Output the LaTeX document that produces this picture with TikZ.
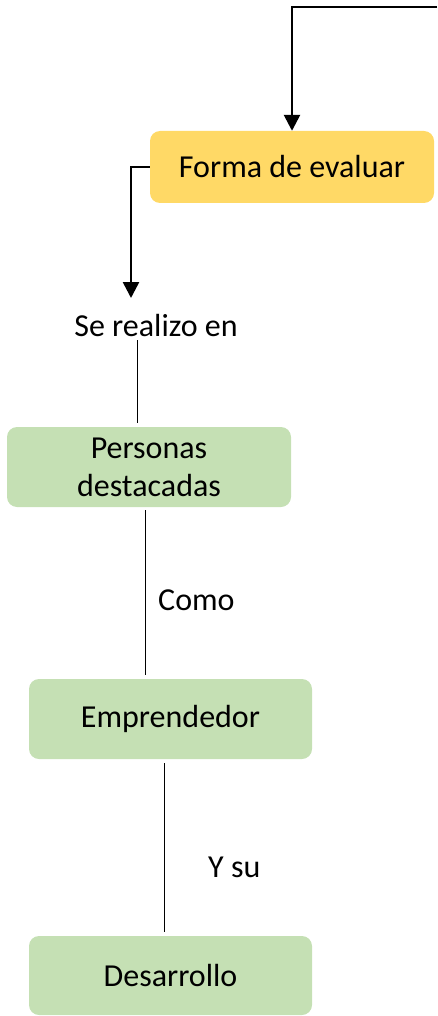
\documentclass[tikz,border=0pt]{standalone}
\usepackage{fontspec}
\setmainfont{Carlito}
\usetikzlibrary{arrows.meta}
\definecolor{yel}{HTML}{FFD966}
\definecolor{grn}{HTML}{C5E0B4}
\tikzset{
  box/.style={rounded corners=10pt, inner sep=0pt, align=center, font=\fontsize{32}{38}\selectfont},
  ybox/.style={box, fill=yel},
  gbox/.style={box, fill=grn},
  lbl/.style={inner sep=0pt, font=\fontsize{32}{38}\selectfont},
  arr/.style={line width=2.6pt, -{Triangle[width=16pt,length=16pt]}},
  ln/.style={line width=1pt}
}
\begin{document}
\begin{tikzpicture}[x=1pt,y=-1pt]
\useasboundingbox (0,0) rectangle (437,1016);
\node[ybox, minimum width=284pt, minimum height=72pt] (fe) at (292,167) {Forma de evaluar};
\node[gbox, minimum width=284pt, minimum height=80pt] (pd) at (149,467) {Personas\\destacadas};
\node[gbox, minimum width=283pt, minimum height=80pt] (em) at (170.5,719) {Emprendedor};
\node[gbox, minimum width=283pt, minimum height=79pt] (de) at (170.5,975.5) {Desarrollo};
\node[lbl] (se) at (156,326) {Se realizo en};
\node[lbl, anchor=west] (como) at (158,600) {Como};
\node[lbl, anchor=west] (ysu) at (208,867) {Y su};
\coordinate (top) at (437,7);
\coordinate (tip) at (131,298);
\coordinate (c1) at (137,340);
\coordinate (c2) at (145,510);
\coordinate (c3) at (164,763);
\draw[arr] (top) -| (fe.north);
\draw[arr] (fe.west) -| (tip);
\draw[ln, shorten >=4pt] (c1) -- (c1 |- pd.north);
\draw[ln, shorten >=4pt] (c2) -- (c2 |- em.north);
\draw[ln, shorten >=4pt] (c3) -- (c3 |- de.north);
\end{tikzpicture}
\end{document}
